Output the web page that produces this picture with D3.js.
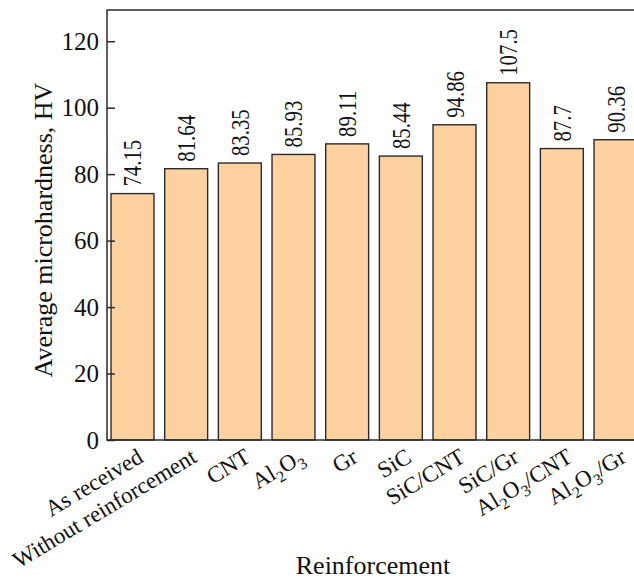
<!DOCTYPE html>
<html>
<head>
<meta charset="utf-8">
<script src="https://cdn.jsdelivr.net/npm/d3@7"></script>
<style>
  body { margin: 0; background: #fff; }
  svg { display: block; font-family: "Liberation Serif", "Times New Roman", serif; }
</style>
</head>
<body>
<div id="chart"></div>
<script>
var width = 634,
    height = 580,
    barColor = '#fdd2a0',
    lineColor = '#2b2b2b';

// data
var categories = ["As received", "Without reinforcement", "CNT", "Al2O3", "Gr", "SiC",
                  "SiC/CNT", "SiC/Gr", "Al2O3/CNT", "Al2O3/Gr"];
var hardness = [74.15, 81.64, 83.35, 85.93, 89.11, 85.44, 94.86, 107.5, 87.7, 90.36];
var valueLabels = ["74.15", "81.64", "83.35", "85.93", "89.11", "85.44", "94.86", "107.5", "87.7", "90.36"];
var yTicks = [0, 20, 40, 60, 80, 100, 120];

var plotLeft = 107, plotRight = 641, plotTop = 10, plotBottom = 440;

var svg = d3.select("#chart")
    .append("svg")
    .attr("width", width)
    .attr("height", height);

var x = d3.scaleBand()
    .domain(categories)
    .range([plotLeft, plotRight])
    .paddingInner(0.2)
    .paddingOuter(0.075);

var y = d3.scaleLinear()
    .domain([0, 129.4])
    .range([plotBottom, plotTop]);

// bars
svg.selectAll("rect.bar")
    .data(hardness)
    .enter()
    .append("rect")
    .attr("class", "bar")
    .attr("x", function (d, i) { return x(categories[i]); })
    .attr("y", function (d) { return y(d); })
    .attr("width", x.bandwidth())
    .attr("height", function (d) { return y(0) - y(d); })
    .style("fill", barColor)
    .style("stroke", lineColor)
    .style("stroke-width", 1.4);

// value labels above bars, rotated
svg.selectAll("text.value")
    .data(hardness)
    .enter()
    .append("text")
    .attr("class", "value")
    .attr("transform", function (d, i) {
        var cx = x(categories[i]) + x.bandwidth() / 2;
        return "translate(" + (cx + 9) + "," + (y(d) - 7) + ")rotate(-90)scale(0.8,1)";
    })
    .style("font-size", "26px")
    .style("fill", "#111")
    .text(function (d, i) { return valueLabels[i]; });

// frame
svg.append("rect")
    .attr("x", plotLeft)
    .attr("y", plotTop)
    .attr("width", plotRight - plotLeft)
    .attr("height", plotBottom - plotTop)
    .style("fill", "none")
    .style("stroke", lineColor)
    .style("stroke-width", 1.5);

// y axis, ticks pointing inward
var yAxis = d3.axisLeft(y)
    .tickValues(yTicks)
    .tickSizeInner(-8)
    .tickSizeOuter(0)
    .tickPadding(8);

var gy = svg.append("g")
    .attr("transform", "translate(" + plotLeft + ",0)")
    .call(yAxis);
gy.select(".domain").remove();
gy.selectAll("line").attr("stroke", lineColor).attr("stroke-width", 1.5);
gy.selectAll("text")
    .style("font-family", "Liberation Serif, serif")
    .style("font-size", "25px")
    .attr("fill", "#111");

// x category labels with subscript digits
svg.selectAll("text.cat")
    .data(categories)
    .enter()
    .append("text")
    .attr("class", "cat")
    .attr("transform", function (d) {
        var cx = x(d) + x.bandwidth() / 2;
        return "translate(" + (cx + 12) + ",461)rotate(-31)";
    })
    .attr("text-anchor", "end")
    .style("font-size", "23px")
    .style("fill", "#111")
    .each(function (d) {
        var el = d3.select(this);
        var parts = d.match(/\d+|\D+/g);
        var shifted = false;
        parts.forEach(function (p) {
            var t = el.append("tspan").text(p);
            if (/\d/.test(p)) {
                t.style("font-size", "16px").attr("dy", 6);
                shifted = true;
            } else if (shifted) {
                t.attr("dy", -6);
                shifted = false;
            }
        });
    });

// axis titles
svg.append("text")
    .attr("x", 373)
    .attr("y", 574)
    .attr("text-anchor", "middle")
    .style("font-size", "26px")
    .style("fill", "#111")
    .text("Reinforcement");

svg.append("text")
    .attr("transform", "translate(52,230)rotate(-90)")
    .attr("text-anchor", "middle")
    .style("font-size", "26px")
    .style("fill", "#111")
    .text("Average microhardness, HV");
</script>
</body>
</html>
